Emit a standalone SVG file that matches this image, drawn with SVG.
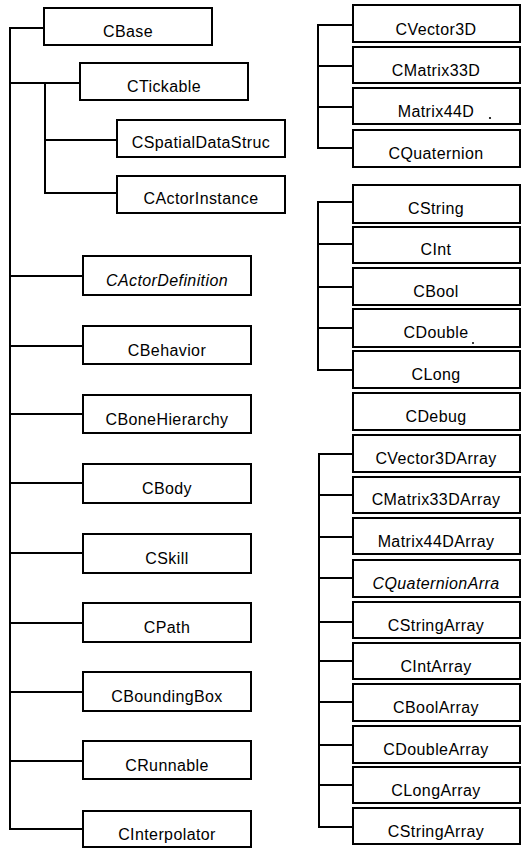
<svg xmlns="http://www.w3.org/2000/svg" width="521" height="848" viewBox="0 0 521 848">
<style>
rect.b{fill:#fff;stroke:#000;stroke-width:2}
text{font-family:"Liberation Sans",Arial,sans-serif;font-size:16px;letter-spacing:0.4px;text-anchor:middle;fill:#000}
text.i{font-style:italic}
#connectors path{fill:none;stroke:#000;stroke-width:2}
</style>
<rect width="521" height="848" fill="#fff"/>
<g id="connectors">
<path d="M44,28H10V829H83M10,83H80M45,83V193H117M45,140H117M10,276H83M10,346H83M10,414H83M10,483H83M10,553H83M10,623H83M10,692H83M10,761H83"/>
<path d="M353,25H318V148H353M318,66H353M318,107H353"/>
<path d="M353,202H318V370H353M318,244H353M318,287H353M318,328H353"/>
<path d="M353,454H319V827H353M319,495H353M319,537H353M319,578H353M319,622H353M319,661H353M319,702H353M319,745H353M319,785H353"/>
</g>
<g id="CBase"><rect class="b" x="44" y="8" width="168" height="37"/><text x="128" y="37">CBase</text></g>
<g id="CTickable"><rect class="b" x="80" y="63" width="168" height="37"/><text x="164" y="92">CTickable</text></g>
<g id="CSpatialDataStruc"><rect class="b" x="117" y="120" width="168" height="37"/><text x="201" y="148">CSpatialDataStruc</text></g>
<g id="CActorInstance"><rect class="b" x="117" y="176" width="168" height="37"/><text x="201" y="204">CActorInstance</text></g>
<g id="CActorDefinition"><rect class="b" x="83" y="256" width="168" height="39"/><text class="i" x="167" y="286">CActorDefinition</text></g>
<g id="CBehavior"><rect class="b" x="83" y="326" width="168" height="38"/><text x="167" y="356">CBehavior</text></g>
<g id="CBoneHierarchy"><rect class="b" x="83" y="395" width="168" height="38"/><text x="167" y="425">CBoneHierarchy</text></g>
<g id="CBody"><rect class="b" x="83" y="464" width="168" height="39"/><text x="167" y="494">CBody</text></g>
<g id="CSkill"><rect class="b" x="83" y="534" width="168" height="39"/><text x="167" y="564">CSkill</text></g>
<g id="CPath"><rect class="b" x="83" y="603" width="168" height="39"/><text x="167" y="633">CPath</text></g>
<g id="CBoundingBox"><rect class="b" x="83" y="672" width="168" height="39"/><text x="167" y="702">CBoundingBox</text></g>
<g id="CRunnable"><rect class="b" x="83" y="741" width="168" height="38"/><text x="167" y="771">CRunnable</text></g>
<g id="CInterpolator"><rect class="b" x="83" y="811" width="168" height="36"/><text x="167" y="840">CInterpolator</text></g>

<g id="CVector3D"><rect class="b" x="353" y="5" width="167" height="37"/><text x="436" y="35">CVector3D</text></g>
<g id="CMatrix33D"><rect class="b" x="353" y="47" width="167" height="36"/><text x="436" y="76">CMatrix33D</text></g>
<g id="Matrix44D"><rect class="b" x="353" y="88" width="167" height="36"/><text x="436" y="117">Matrix44D</text></g>
<g id="CQuaternion"><rect class="b" x="353" y="130" width="167" height="37"/><text x="436" y="159">CQuaternion</text></g>
<circle cx="490" cy="118" r="1.1" fill="#000"/>

<g id="CString"><rect class="b" x="353" y="185" width="167" height="38"/><text x="436" y="214">CString</text></g>
<g id="CInt"><rect class="b" x="353" y="227" width="167" height="36"/><text x="436" y="255">CInt</text></g>
<g id="CBool"><rect class="b" x="353" y="268" width="167" height="37"/><text x="436" y="297">CBool</text></g>
<g id="CDouble"><rect class="b" x="353" y="309" width="167" height="38"/><text x="436" y="338">CDouble</text></g>
<circle cx="473" cy="343" r="1" fill="#000"/>
<g id="CLong"><rect class="b" x="353" y="351" width="167" height="37"/><text x="436" y="380">CLong</text></g>
<g id="CDebug"><rect class="b" x="353" y="393" width="167" height="37"/><text x="436" y="422">CDebug</text></g>

<g id="CVector3DArray"><rect class="b" x="353" y="435" width="167" height="37"/><text x="436" y="464">CVector3DArray</text></g>
<g id="CMatrix33DArray"><rect class="b" x="353" y="477" width="167" height="36"/><text x="436" y="505">CMatrix33DArray</text></g>
<g id="Matrix44DArray"><rect class="b" x="353" y="518" width="167" height="36"/><text x="436" y="547">Matrix44DArray</text></g>
<g id="CQuaternionArra"><rect class="b" x="353" y="560" width="167" height="37"/><text class="i" x="436" y="589">CQuaternionArra</text></g>
<g id="CStringArray1"><rect class="b" x="353" y="602" width="167" height="36"/><text x="436" y="631">CStringArray</text></g>
<g id="CIntArray"><rect class="b" x="353" y="643" width="167" height="36"/><text x="436" y="672">CIntArray</text></g>
<g id="CBoolArray"><rect class="b" x="353" y="684" width="167" height="37"/><text x="436" y="713">CBoolArray</text></g>
<g id="CDoubleArray"><rect class="b" x="353" y="726" width="167" height="37"/><text x="436" y="755">CDoubleArray</text></g>
<g id="CLongArray"><rect class="b" x="353" y="767" width="167" height="36"/><text x="436" y="796">CLongArray</text></g>
<g id="CStringArray2"><rect class="b" x="353" y="808" width="167" height="36"/><text x="436" y="837">CStringArray</text></g>
</svg>
